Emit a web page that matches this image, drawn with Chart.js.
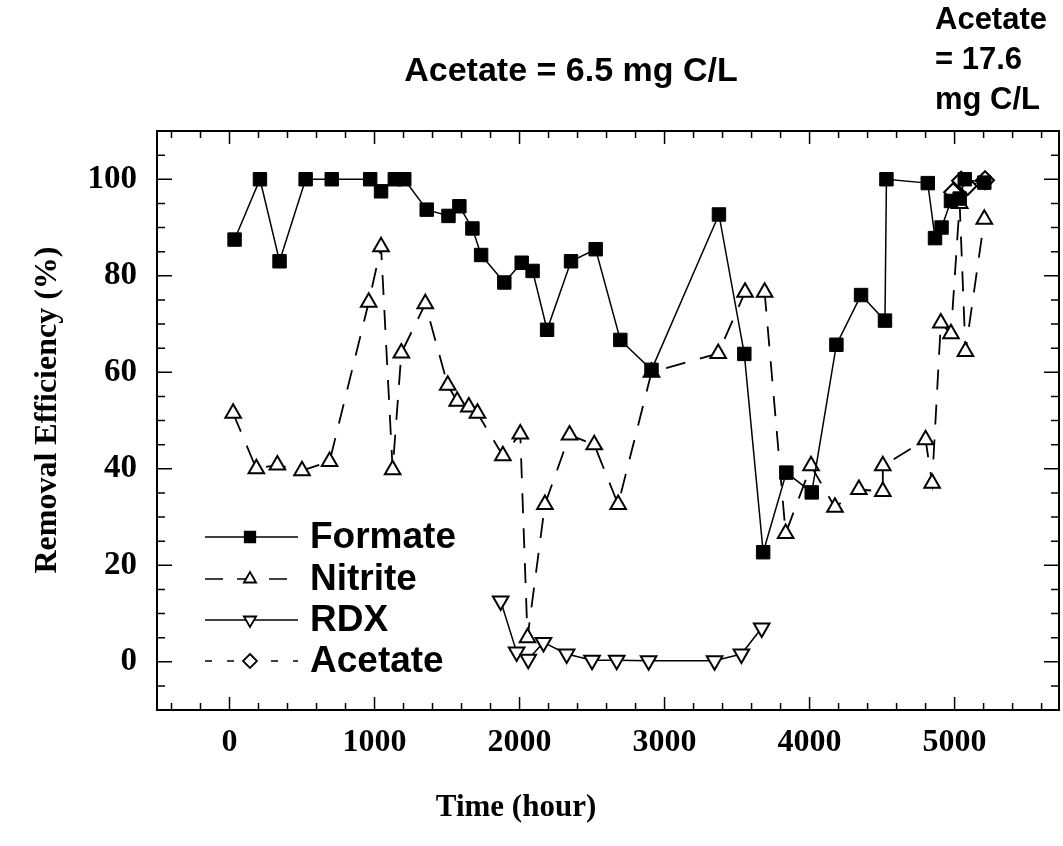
<!DOCTYPE html>
<html>
<head>
<meta charset="utf-8">
<title>Removal Efficiency</title>
<script src="https://cdn.jsdelivr.net/npm/chart.js@4/dist/chart.umd.min.js"></script>
<style>
  html, body { margin: 0; padding: 0; background: #fff; }
  #wrap { width: 1063px; height: 846px; }
</style>
</head>
<body>
<div id="wrap"><canvas id="efficiencyChart" width="1063" height="846"></canvas></div>
<script>
// values (time in hours, removal efficiency in %)
const formateHours = [35, 210, 345, 525, 705, 970, 1045, 1140, 1205, 1360, 1510, 1585, 1675, 1735, 1895, 2015, 2090, 2190, 2355, 2525, 2695, 2910, 3375, 3550, 3680, 3840, 4015, 4185, 4355, 4520, 4530, 4815, 4865, 4910, 4975, 5035, 5070, 5205];
const formateValues = [87.5, 100, 83, 100, 100, 100, 97.5, 100, 100, 93.7, 92.4, 94.4, 89.8, 84.3, 78.6, 82.7, 81, 68.8, 83, 85.5, 66.7, 60.5, 92.7, 63.8, 22.7, 39.2, 35.1, 65.7, 76, 70.7, 100, 99.2, 87.8, 90, 95.5, 96, 100, 99.3];

const nitriteHours = [25, 185, 330, 500, 690, 960, 1045, 1125, 1185, 1350, 1505, 1570, 1650, 1710, 1885, 2005, 2055, 2175, 2345, 2515, 2680, 2910, 3370, 3555, 3690, 3835, 4010, 4175, 4340, 4505, 4505, 4800, 4845, 4905, 4975, 5035, 5075, 5205];
const nitriteValues = [51.5, 40, 40.8, 39.6, 41.5, 74.5, 86, 39.8, 64, 74.2, 57.3, 54, 52.8, 51.5, 42.7, 47.2, 5, 32.6, 47, 45, 32.6, 60, 63.9, 76.6, 76.6, 26.6, 40.6, 32, 35.7, 35.3, 40.6, 46, 37, 70.2, 68, 95, 64.3, 91.7];

const rdxHours = [1870, 1980, 2060, 2165, 2325, 2500, 2670, 2890, 3345, 3530, 3670];
const rdxValues = [12.6, 2, 0.5, 4, 1.6, 0.3, 0.3, 0.2, 0.2, 1.6, 7];

const acetateHours = [4990, 5045, 5090, 5210];
const acetateValues = [97.3, 99.7, 98.6, 99.8];

const xTicks = [0, 1000, 2000, 3000, 4000, 5000];
const yTicks = [0, 20, 40, 60, 80, 100];

const seriesNames = ["Formate", "Nitrite", "RDX", "Acetate"];

function points(xs, ys) {
  return xs.map((x, i) => ({ x: x, y: ys[i] }));
}

const serif = "'Liberation Serif', 'Times New Roman', serif";
const sans = "'Liberation Sans', Arial, sans-serif";

// box, inward ticks, legend, axis titles and the two acetate notes
const framePlugin = {
  id: "frame",
  afterDatasetsDraw(chart) {
    const ctx = chart.ctx;
    const a = chart.chartArea;
    const xs = chart.scales.x;
    const ys = chart.scales.y;
    ctx.save();
    ctx.strokeStyle = "#000";
    ctx.lineWidth = 2;
    ctx.setLineDash([]);
    ctx.strokeRect(a.left, a.top, a.right - a.left, a.bottom - a.top);

    ctx.lineWidth = 1.5;
    for (let v = -400; v <= 5600; v += 200) {
      let len = v % 1000 === 0 ? 13 : 7;
      let px = xs.getPixelForValue(v);
      ctx.beginPath();
      ctx.moveTo(px, a.bottom);
      ctx.lineTo(px, a.bottom - len);
      ctx.moveTo(px, a.top);
      ctx.lineTo(px, a.top + len);
      ctx.stroke();
    }
    for (let v = -5; v <= 105; v += 5) {
      let len = v % 20 === 0 ? 15 : 8;
      let py = ys.getPixelForValue(v);
      ctx.beginPath();
      ctx.moveTo(a.left, py);
      ctx.lineTo(a.left + len, py);
      ctx.moveTo(a.right, py);
      ctx.lineTo(a.right - len, py);
      ctx.stroke();
    }
    ctx.restore();
  },
  afterDraw(chart) {
    const ctx = chart.ctx;
    ctx.save();

    // legend
    const rows = [537, 579, 620, 661];
    chart.data.datasets.forEach((ds, i) => {
      let y = rows[i];
      ctx.strokeStyle = "#000";
      ctx.lineWidth = 1.5;
      ctx.setLineDash(ds.legendDash || []);
      ctx.beginPath();
      ctx.moveTo(205, y);
      ctx.lineTo(298, y);
      ctx.stroke();
      ctx.setLineDash([]);
      drawMarker(ctx, ds.pointStyle, ds.pointRotation || 0, 250, y, 7, ds.pointBackgroundColor);
      ctx.fillStyle = "#000";
      ctx.font = "bold 37px " + sans;
      ctx.textAlign = "left";
      ctx.textBaseline = "middle";
      ctx.fillText(ds.label, 310, y + 1);
    });

    // axis titles
    ctx.fillStyle = "#000";
    ctx.font = "bold 31px " + serif;
    ctx.textAlign = "center";
    ctx.textBaseline = "middle";
    ctx.fillText("Time (hour)", 516, 808);
    ctx.save();
    ctx.translate(48, 410);
    ctx.rotate(-Math.PI / 2);
    ctx.font = "bold 32px " + serif;
    ctx.fillText("Removal Efficiency (%)", 0, 0);
    ctx.restore();

    // acetate dose notes above the plot
    ctx.font = "bold 34px " + sans;
    ctx.fillText("Acetate = 6.5 mg C/L", 571, 72);
    ctx.font = "bold 31px " + sans;
    ctx.textAlign = "left";
    ctx.fillText("Acetate", 935, 20);
    ctx.fillText("= 17.6", 935, 60);
    ctx.fillText("mg C/L", 935, 100);
    ctx.restore();
  }
};

function drawMarker(ctx, style, rotation, x, y, r, fill) {
  ctx.beginPath();
  if (style === "rect") {
    ctx.rect(x - r * 0.75, y - r * 0.75, r * 1.5, r * 1.5);
  } else if (style === "triangle") {
    let d = rotation === 180 ? -1 : 1;
    ctx.moveTo(x, y - d * r);
    ctx.lineTo(x - r * 0.87, y + d * r * 0.5);
    ctx.lineTo(x + r * 0.87, y + d * r * 0.5);
    ctx.closePath();
  } else {
    ctx.moveTo(x, y - r);
    ctx.lineTo(x + r, y);
    ctx.lineTo(x, y + r);
    ctx.lineTo(x - r, y);
    ctx.closePath();
  }
  ctx.fillStyle = fill;
  ctx.fill();
  ctx.strokeStyle = "#000";
  ctx.lineWidth = 1.8;
  ctx.stroke();
}

const ctx = document.getElementById("efficiencyChart").getContext("2d");

let chart = new Chart(ctx, {
  type: "line",
  data: {
    datasets: [
      {
        label: seriesNames[0],
        data: points(formateHours, formateValues),
        borderColor: "#000",
        borderWidth: 1.5,
        pointStyle: "rect",
        pointRadius: 9.5,
        pointBackgroundColor: "#000",
        pointBorderColor: "#000",
        pointBorderWidth: 1,
      },
      {
        label: seriesNames[1],
        data: points(nitriteHours, nitriteValues),
        borderColor: "#000",
        borderWidth: 1.8,
        borderDash: [20, 15],
        legendDash: [18, 14],
        pointStyle: "triangle",
        pointRadius: 9,
        pointBackgroundColor: "#fff",
        pointBorderColor: "#000",
        pointBorderWidth: 2,
      },
      {
        label: seriesNames[2],
        data: points(rdxHours, rdxValues),
        borderColor: "#000",
        borderWidth: 1.5,
        pointStyle: "triangle",
        pointRotation: 180,
        pointRadius: 9,
        pointBackgroundColor: "#fff",
        pointBorderColor: "#000",
        pointBorderWidth: 2,
      },
      {
        label: seriesNames[3],
        data: points(acetateHours, acetateValues),
        borderColor: "#000",
        borderWidth: 1.5,
        borderDash: [4, 6],
        legendDash: [7, 15],
        pointStyle: "rectRot",
        pointRadius: 9,
        pointBackgroundColor: "#fff",
        pointBorderColor: "#000",
        pointBorderWidth: 2,
      },
    ],
  },
  options: {
    responsive: false,
    animation: false,
    devicePixelRatio: 1,
    layout: { autoPadding: false, padding: { top: 131, right: 4, left: 0, bottom: 0 } },
    elements: { line: { tension: 0 } },
    plugins: {
      legend: { display: false },
      tooltip: { enabled: false },
    },
    scales: {
      x: {
        type: "linear",
        min: -500,
        max: 5720,
        afterBuildTicks: (scale) => {
          scale.ticks = xTicks.map((v) => ({ value: v }));
        },
        afterFit: (scale) => {
          scale.height = 136;
          scale.paddingLeft = 0;
          scale.paddingRight = 0;
        },
        grid: { display: false, drawTicks: false },
        border: { display: false },
        ticks: {
          color: "#000",
          padding: 14,
          maxRotation: 0,
          callback: (v) => String(v),
          font: { family: serif, size: 32, weight: "bold" },
        },
      },
      y: {
        type: "linear",
        min: -10,
        max: 110,
        afterBuildTicks: (scale) => {
          scale.ticks = yTicks.map((v) => ({ value: v }));
        },
        afterFit: (scale) => {
          scale.width = 157;
          scale.paddingTop = 0;
          scale.paddingBottom = 0;
        },
        grid: { display: false, drawTicks: false },
        border: { display: false },
        ticks: {
          color: "#000",
          padding: 20,
          callback: (v) => String(v),
          font: { family: serif, size: 33, weight: "bold" },
        },
      },
    },
  },
  plugins: [framePlugin],
});
</script>
</body>
</html>
